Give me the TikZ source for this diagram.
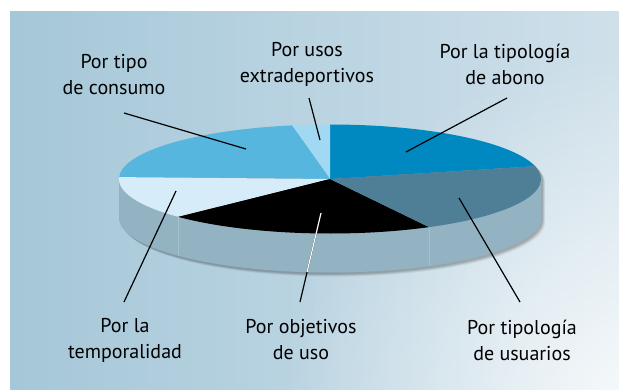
\documentclass[tikz,border=0pt]{standalone}
\usepackage{fontspec}
\setmainfont{PT Sans}
\usetikzlibrary{fadings}
\definecolor{bgL}{HTML}{A5C7D8}
\definecolor{bgR}{HTML}{CFE0EA}
\definecolor{abono}{HTML}{0088C0}
\definecolor{usu}{HTML}{4F7F96}
\definecolor{temp}{HTML}{D6ECF9}
\definecolor{consumo}{HTML}{56B6DD}
\definecolor{extra}{HTML}{A2D9F2}
\definecolor{side}{HTML}{93B3C3}
\definecolor{sepcol}{HTML}{A3C0CE}
\tikzfading[name=glowfade, inner color=transparent!15, outer color=transparent!100]
\begin{document}
\begin{tikzpicture}[x=1pt,y=1pt,
  lbl/.style={font=\fontsize{20}{26}\selectfont, align=center, inner sep=0pt},
  leader/.style={line width=1.2pt, black},
  silh/.style={insert path={(119,210) arc[start angle=180,end angle=0,x radius=211,y radius=54.5] -- ++(0,-39) arc[start angle=0,end angle=-180,x radius=211,y radius=54.5] -- cycle}},
  sidepath/.style={insert path={(119,210) arc[start angle=180,end angle=360,x radius=211,y radius=54.5] -- ++(0,-39) arc[start angle=0,end angle=-180,x radius=211,y radius=54.5] -- cycle}}]
\useasboundingbox (0,0) rectangle (619,389);
% background panel
\begin{scope}
\clip (10,0) rectangle (619,377);
\shade[left color=bgL, right color=bgR] (10,0) rectangle (619,377);
\fill[white, path fading=glowfade] (640,-20) circle (360);
\end{scope}
% soft shadow
\foreach \o/\op in {7/0.04,6/0.05,5/0.06,4/0.07,3/0.08}
  \fill[black, opacity=\op, shift={(\o*0.6,-\o*0.6)}, silh];
% side
\fill[side, sidepath];
\foreach \t in {224,298}
  \draw[sepcol, line width=0.6pt] ({330+211*cos(\t)},{210+54.5*sin(\t)}) -- ++(0,-39);
% top slices
\foreach \a/\b/\c in {13.6/90/abono, 90/100.4/extra, 100.4/178/consumo, 178/224/temp, 224/298/black, 298/373.6/usu}
  \fill[\c] (330,210) -- ++(\a:211 and 54.5) arc[start angle=\a,end angle=\b,x radius=211,y radius=54.5] -- cycle;
% labels
\node[lbl] (consumo) at (114,314) {Por tipo\\de consumo};
\node[lbl] (extra) at (307,325) {Por usos\\extradeportivos};
\node[lbl] (abono) at (505,325) {Por la tipología\\de abono};
\node[lbl] (temp) at (125,49) {Por la\\temporalidad};
\node[lbl] (obj) at (301,49) {Por objetivos\\de uso};
\node[lbl] (usu) at (522,49) {Por tipología\\de usuarios};
% leader end points
\coordinate (consumoA) at (124,276); \coordinate (consumoB) at (246,240);
\coordinate (extraA) at (309,291); \coordinate (extraB) at (320,249);
\coordinate (abonoA) at (507,291); \coordinate (abonoB) at (406,237);
\coordinate (usuA) at (520,87); \coordinate (usuB) at (459,191);
\coordinate (objA) at (300,87); \coordinate (objB) at (321,176);
\coordinate (tempA) at (124,87); \coordinate (tempB) at (176,198);
\draw[leader] (consumoA) -- (consumoB);
\draw[leader] (extraA) -- (extraB);
\draw[leader] (abonoA) -- (abonoB);
\draw[leader] (usuA) -- (usuB);
\draw[leader] (tempA) -- (tempB);
\draw[leader] (objA) -- (objB);
\begin{scope}
\clip[silh];
\draw[leader, white] (objA) -- (objB);
\end{scope}
\end{tikzpicture}
\end{document}
